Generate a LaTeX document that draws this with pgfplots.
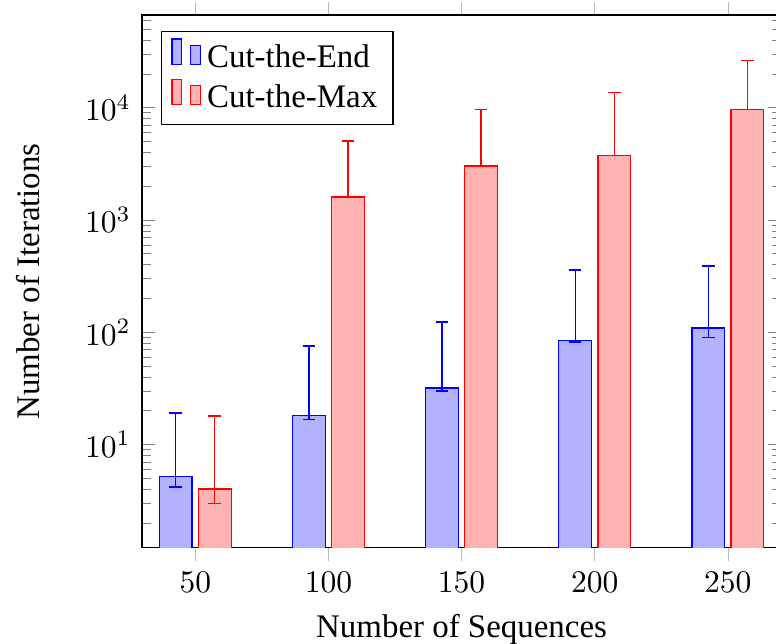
\documentclass[border=0pt]{standalone}
\usepackage[no-math]{fontspec}
\setmainfont{Liberation Serif}
\usepackage{pgfplots}
\pgfplotsset{compat=1.18}
\begin{document}
\begin{tikzpicture}
\begin{axis}[
  name=ax,
  scale only axis,
  width=202.9pt, height=169.1pt,
  ybar, bar width=10.4pt,
  ymode=log,
  xmin=30, xmax=270,
  ymin=1.205, ymax=6.68e4,
  xtick={50,100,150,200,250},
  xtick align=outside,
  xtick style={gray!55},
  ytick style={gray},
  xlabel={Number of Sequences},
  ylabel={Number of Iterations},
  label style={font=\fontsize{10.45}{12.5}\selectfont},
  ylabel style={at={(axis description cs:-0.178,0.50)}, anchor=center},
  legend pos=north west,
  legend style={legend cell align=left, font=\fontsize{10.45}{12.5}\selectfont},
]
\addplot+[error bars/.cd, y dir=both, y explicit] coordinates {
  (50,5.17)  += (0,13.93) -= (0,0.98)
  (100,18.0) += (0,57.4)  -= (0,1.2)
  (150,31.9) += (0,91.1)  -= (0,2.0)
  (200,85)   += (0,273)   -= (0,3)
  (250,109)  += (0,279)   -= (0,19)
};
\addplot+[error bars/.cd, y dir=both, y explicit] coordinates {
  (50,4.02)  += (0,13.9)  -= (0,1.05)
  (100,1600) += (0,3440)  -= (0,0)
  (150,3020) += (0,6680)  -= (0,0)
  (200,3730) += (0,9970)  -= (0,0)
  (250,9640) += (0,16760) -= (0,0)
};
\legend{Cut-the-End, Cut-the-Max}
\end{axis}
\pgfresetboundingbox
\useasboundingbox ([shift={(-45.08pt,-30.57pt)}]ax.south west) rectangle ([shift={(201.27pt,173.87pt)}]ax.south west);
\end{tikzpicture}
\end{document}
